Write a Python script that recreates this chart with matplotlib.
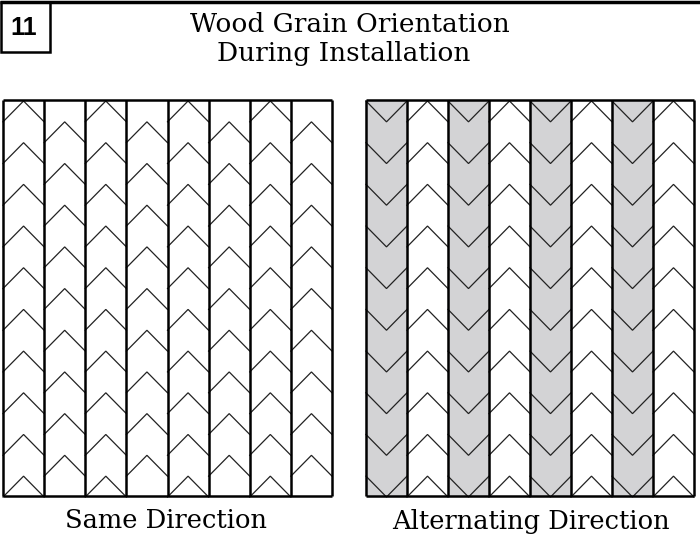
import numpy as np
import matplotlib.pyplot as plt
from matplotlib.patches import Rectangle

# panel content: one entry per board (column)
left_dirs = ['up'] * 8
left_phase = [0, 0.5, 0, 0.5, 0, 0.5, 0, 0.5]      # offset in chevron periods
left_counts = [10, 9, 10, 9, 10, 9, 10, 9]
left_shaded = [0, 0, 0, 0, 0, 0, 0, 0]

right_dirs = ['down', 'up', 'down', 'up', 'down', 'up', 'down', 'up']
right_phase = [0] * 8
right_counts = [10] * 8
right_shaded = [1, 0, 1, 0, 1, 0, 1, 0]

title_lines = ['Wood Grain Orientation', 'During Installation']
panel_labels = ['Same Direction', 'Alternating Direction']
fig_number = '11'

# layout (pixels)
W, H = 700, 557
top, bottom = 100, 496
period = (bottom - top) / 9.5
shade = '#d3d3d5'
serif = 'DejaVu Serif'

fig = plt.figure(figsize=(W / 100, H / 100), dpi=100)
ax = fig.add_axes([0, 0, 1, 1])
ax.set_xlim(0, W)
ax.set_ylim(H, 0)
ax.axis('off')


def draw_panel(x0, x1, dirs, phase, counts, shaded):
    n = len(dirs)
    cw = (x1 - x0) / n
    for i in range(n):
        cx0 = x0 + i * cw
        cx1 = cx0 + cw
        if shaded[i]:
            ax.add_patch(Rectangle((cx0, top), cw, bottom - top, color=shade, zorder=1))
        for k in range(counts[i]):
            y0 = top + 1 + (phase[i] + k) * period
            if dirs[i] == 'up':
                ys = [y0 + period / 2, y0, y0 + period / 2]
            else:
                ys = [y0, y0 + period / 2, y0]
            ax.plot([cx0, (cx0 + cx1) / 2, cx1], ys, color='#222222', lw=0.9, zorder=2,
                    solid_joinstyle='miter')
    # board edges
    xs = x0 + np.arange(n + 1) * cw
    ax.vlines(xs, top, bottom, color='black', lw=1.8, zorder=3)
    ax.hlines([top, bottom], x0, x1, color='black', lw=1.8, zorder=3)


draw_panel(3, 332, left_dirs, left_phase, left_counts, left_shaded)
draw_panel(366, 694, right_dirs, right_phase, right_counts, right_shaded)

# header rule and figure number box
ax.hlines(2, 0, W, color='black', lw=2.5)
ax.add_patch(Rectangle((1, 2), 49, 50, fill=False, ec='black', lw=1.8))
ax.text(24, 28, fig_number, ha='center', va='center', fontsize=18, fontweight='bold',
        family='Liberation Sans')

ax.text(350, 25, title_lines[0], ha='center', va='center', fontsize=19, family=serif)
ax.text(344, 54, title_lines[1], ha='center', va='center', fontsize=19, family=serif)

ax.text(166, 521, panel_labels[0], ha='center', va='center', fontsize=18.5, family=serif)
ax.text(531, 521, panel_labels[1], ha='center', va='center', fontsize=18.5, family=serif)

fig.savefig('out.png', dpi=100)
